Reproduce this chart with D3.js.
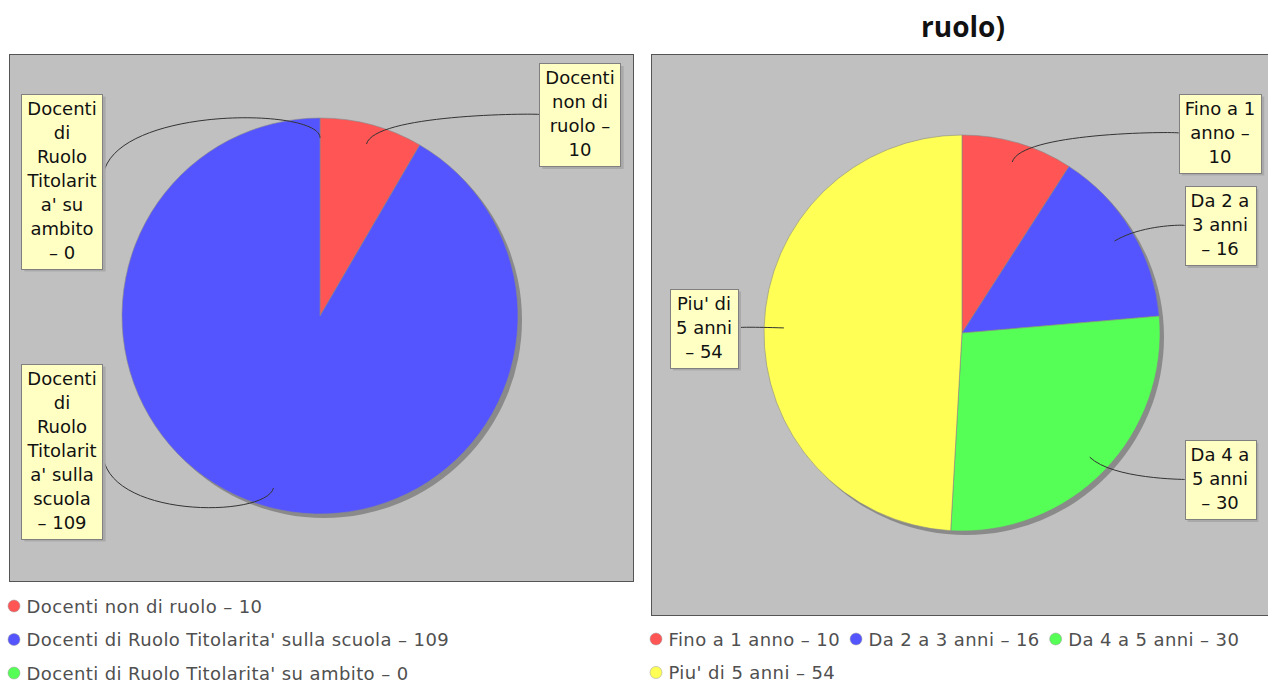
<!DOCTYPE html>
<html>
<head>
<meta charset="utf-8">
<script src="https://cdn.jsdelivr.net/npm/d3@7"></script>
<style>
  body { margin: 0; background: #fff; }
  svg { display: block; }
</style>
</head>
<body>
<svg id="chart" width="1268" height="684"></svg>
<script>
// ---- data ----
const titleText = 'ruolo)';

const leftCategories = ['Docenti non di ruolo', "Docenti di Ruolo Titolarita' sulla scuola", "Docenti di Ruolo Titolarita' su ambito"];
const leftValues = [10, 109, 0];
const leftLabelLines = [
  ['Docenti', 'non di', 'ruolo –', '10'],
  ['Docenti', 'di', 'Ruolo', 'Titolarit', "a' sulla", 'scuola', '– 109'],
  ['Docenti', 'di', 'Ruolo', 'Titolarit', "a' su", 'ambito', '– 0']
];

const rightCategories = ['Fino a 1 anno', 'Da 2 a 3 anni', 'Da 4 a 5 anni', "Piu' di 5 anni"];
const rightValues = [10, 16, 30, 54];
const rightLabelLines = [
  ['Fino a 1', 'anno –', '10'],
  ['Da 2 a', '3 anni', '– 16'],
  ['Da 4 a', '5 anni', '– 30'],
  ["Piu' di", '5 anni', '– 54']
];

const sliceColors = ['#ff5555', '#5555ff', '#55ff55', '#ffff55'];

// ---- layout ----
const panels = [
  { cats: leftCategories, vals: leftValues, lines: leftLabelLines,
    plot: { x: 9, y: 54, w: 624, h: 527 }, cx: 320, cy: 316, r: 198,
    labelY: [114.5, 451, 181], legendY: 606 },
  { cats: rightCategories, vals: rightValues, lines: rightLabelLines,
    plot: { x: 651, y: 54, w: 630, h: 561 }, cx: 962, cy: 333, r: 198,
    labelY: [133, 225.5, 479.5, 328], legendY: 639 }
];

const font = "'DejaVu Sans', sans-serif";
const svg = d3.select('#chart');

const measure = svg.append('text').attr('font-family', font).attr('font-size', 18).attr('opacity', 0);
function textWidth(s, ls) {
  measure.attr('letter-spacing', ls || 0).text(s);
  return measure.node().getComputedTextLength();
}

svg.append('text')
  .attr('x', 963).attr('y', 37)
  .attr('text-anchor', 'middle')
  .attr('font-family', "'Open Sans', 'Noto Sans', sans-serif")
  .attr('font-weight', 'bold')
  .attr('font-size', 28)
  .attr('fill', '#111')
  .text(titleText);

panels.forEach(function(p) {
  var g = svg.append('g');
  var color = d3.scaleOrdinal().domain(p.cats).range(sliceColors);

  g.append('rect')
    .attr('x', p.plot.x + 0.5).attr('y', p.plot.y + 0.5)
    .attr('width', p.plot.w).attr('height', p.plot.h)
    .attr('fill', '#c0c0c0')
    .attr('stroke', '#555').attr('stroke-width', 1);

  var pie = d3.pie().sort(null).value(function(d) { return d.value; });
  var arcs = pie(p.cats.map(function(c, i) { return { name: c, value: p.vals[i], i: i }; }));
  var arc = d3.arc().innerRadius(0).outerRadius(p.r);

  // shadow
  g.append('circle')
    .attr('cx', p.cx + 4).attr('cy', p.cy + 4).attr('r', p.r)
    .attr('fill', '#8a8a8a');

  g.append('g')
    .attr('transform', 'translate(' + p.cx + ',' + p.cy + ')')
    .selectAll('path')
    .data(arcs.filter(function(d) { return d.value > 0; }))
    .enter().append('path')
    .attr('d', arc)
    .attr('fill', function(d) { return color(d.data.name); })
    .attr('stroke', '#888').attr('stroke-width', 0.6);

  // labels + link curves
  arcs.forEach(function(d, i) {
    var mid = (d.startAngle + d.endAngle) / 2;
    var sx = Math.sin(mid), sy = -Math.cos(mid);
    var ax = p.cx + sx * p.r * 0.9, ay = p.cy + sy * p.r * 0.9;
    var ex = p.cx + sx * p.r * 1.06, ey = p.cy + sy * p.r * 1.06;
    var onRight = d.value > 0 && sx > 0.001;

    var lines = p.lines[i];
    var bw = d3.max(lines, function(l) { return textWidth(l); }) + 12;
    var bh = lines.length * 24 + 7;
    var bcx = onRight ? p.plot.x + p.plot.w - 53 : p.plot.x + 53;
    if (onRight && p.plot.x > 600) bcx = 1220;
    var bx = bcx - bw / 2, by = p.labelY[i] - bh / 2;
    var tx = onRight ? bx : bx + bw, ty = p.labelY[i];

    g.append('path')
      .attr('d', 'M' + ax + ',' + ay + 'C' + ex + ',' + ey + ' ' + tx + ',' + ey + ' ' + tx + ',' + ty)
      .attr('fill', 'none').attr('stroke', '#333').attr('stroke-width', 1);

    g.append('rect')
      .attr('x', bx + 3).attr('y', by + 3).attr('width', bw).attr('height', bh)
      .attr('fill', '#a9a9a9');
    g.append('rect')
      .attr('x', Math.round(bx) + 0.5).attr('y', Math.round(by) + 0.5).attr('width', Math.round(bw)).attr('height', Math.round(bh))
      .attr('fill', '#ffffc4').attr('stroke', '#808080').attr('stroke-width', 1);

    g.append('text')
      .attr('font-family', font).attr('font-size', 18).attr('fill', '#111')
      .attr('text-anchor', 'middle')
      .selectAll('tspan').data(lines).enter().append('tspan')
      .attr('x', bcx).attr('y', function(l, k) { return by + 21 + k * 24; })
      .text(function(l) { return l; });
  });

  // legend, flowing items
  var ls = 0.4;
  var lx = p.plot.x - 1, ly = p.legendY;
  p.cats.forEach(function(c, i) {
    var label = c + ' – ' + p.vals[i];
    var w = 18.5 + textWidth(label, ls);
    if (lx + w > Math.min(p.plot.x + p.plot.w, 1268) && lx > p.plot.x) {
      lx = p.plot.x - 1; ly += 33.5;
    }
    g.append('circle')
      .attr('cx', lx + 6).attr('cy', ly).attr('r', 6)
      .attr('fill', color(c)).attr('stroke', '#999').attr('stroke-width', 0.5);
    g.append('text')
      .attr('x', lx + 18.5).attr('y', ly + 6.5)
      .attr('font-family', font).attr('font-size', 18).attr('fill', '#505050')
      .attr('letter-spacing', ls)
      .text(label);
    lx += w + 10;
  });
});
</script>
</body>
</html>
